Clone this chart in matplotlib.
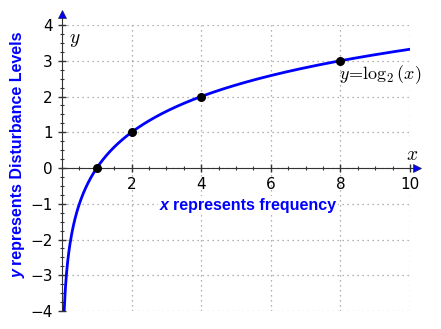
import numpy as np
import matplotlib
matplotlib.use("Agg")
import matplotlib.pyplot as plt
from matplotlib.ticker import MultipleLocator
from matplotlib.transforms import offset_copy

plt.rcParams["mathtext.fontset"] = "cm"

# data
marked_x = [1, 2, 4, 8]
marked_y = [0, 1, 2, 3]
x_ticks = [2, 4, 6, 8, 10]
y_ticks = [-4, -3, -2, -1, 0, 1, 2, 3, 4]
curve_x = np.linspace(1 / 16, 10, 600)
curve_y = np.log2(curve_x)

fig = plt.figure(figsize=(4.41, 3.29), dpi=100)
ax = fig.add_axes([62 / 441, 18 / 329, 348 / 441, 286 / 329])

ax.plot(curve_x, curve_y, color="blue", lw=2, zorder=3)
ax.scatter(marked_x, marked_y, s=30, color="black", zorder=4)

ax.set_xlim(0, 10)
ax.set_ylim(-4, 4)
ax.set_xticks(x_ticks)
ax.set_yticks(y_ticks)
ax.xaxis.set_minor_locator(MultipleLocator(0.5))
ax.yaxis.set_minor_locator(MultipleLocator(0.25))
ax.grid(True, which="major", color="#999999", linestyle=(0, (1, 3)), lw=0.9)

# spines through the origin
for side in ["top", "right"]:
    ax.spines[side].set_visible(False)
ax.spines["left"].set_position(("data", 0))
ax.spines["bottom"].set_position(("data", 0))
ax.spines["left"].set_color("#333333")
ax.spines["bottom"].set_color("#333333")
ax.spines["left"].set_bounds(-4, 4.3)
ax.spines["bottom"].set_bounds(0, 10.2)
ax.tick_params(which="major", direction="inout", length=6, width=1, labelsize=11, color="#333333")
ax.tick_params(which="minor", direction="inout", length=3, width=0.8, color="#333333")

# arrow heads
ax.plot(10.2, 0, ">", color="blue", mec="#222244", mew=0.5, ms=6, clip_on=False, zorder=5)
ax.plot(0, 4.3, "^", color="blue", mec="#222244", mew=0.5, ms=6, clip_on=False, zorder=5)

ax.text(10.05, 0.12, "$x$", fontsize=14, ha="center", va="bottom")
ax.text(0.2, 3.6, "$y$", fontsize=14, ha="left", va="center")
ax.text(7.95, 2.93, r"$y\!=\!\log_2(x)$", fontsize=13, ha="left", va="top")

# axis captions: italic variable letter, bold upright words
lbl = dict(color="blue", fontsize=11.5, fontweight="bold", family="Liberation Sans")
ax.text(3.18, -1.05, "represents frequency", ha="left", va="center",
        bbox=dict(facecolor="white", edgecolor="none", pad=1.5), **lbl)
ax.text(3.18, -1.05, "x", ha="right", va="center", style="italic",
        bbox=dict(facecolor="white", edgecolor="none", pad=1.5),
        transform=offset_copy(ax.transData, fig=fig, x=-4, units="dots"), **lbl)

fig.text(18 / 441, 64 / 329, "represents Disturbance Levels", rotation=90,
         ha="center", va="bottom", **lbl)
fig.text(18 / 441, 64 / 329, "y", rotation=90, ha="center", va="top",
         style="italic", transform=offset_copy(fig.transFigure, fig=fig, y=-4, units="dots"), **lbl)

fig.savefig("out.png", dpi=100)
